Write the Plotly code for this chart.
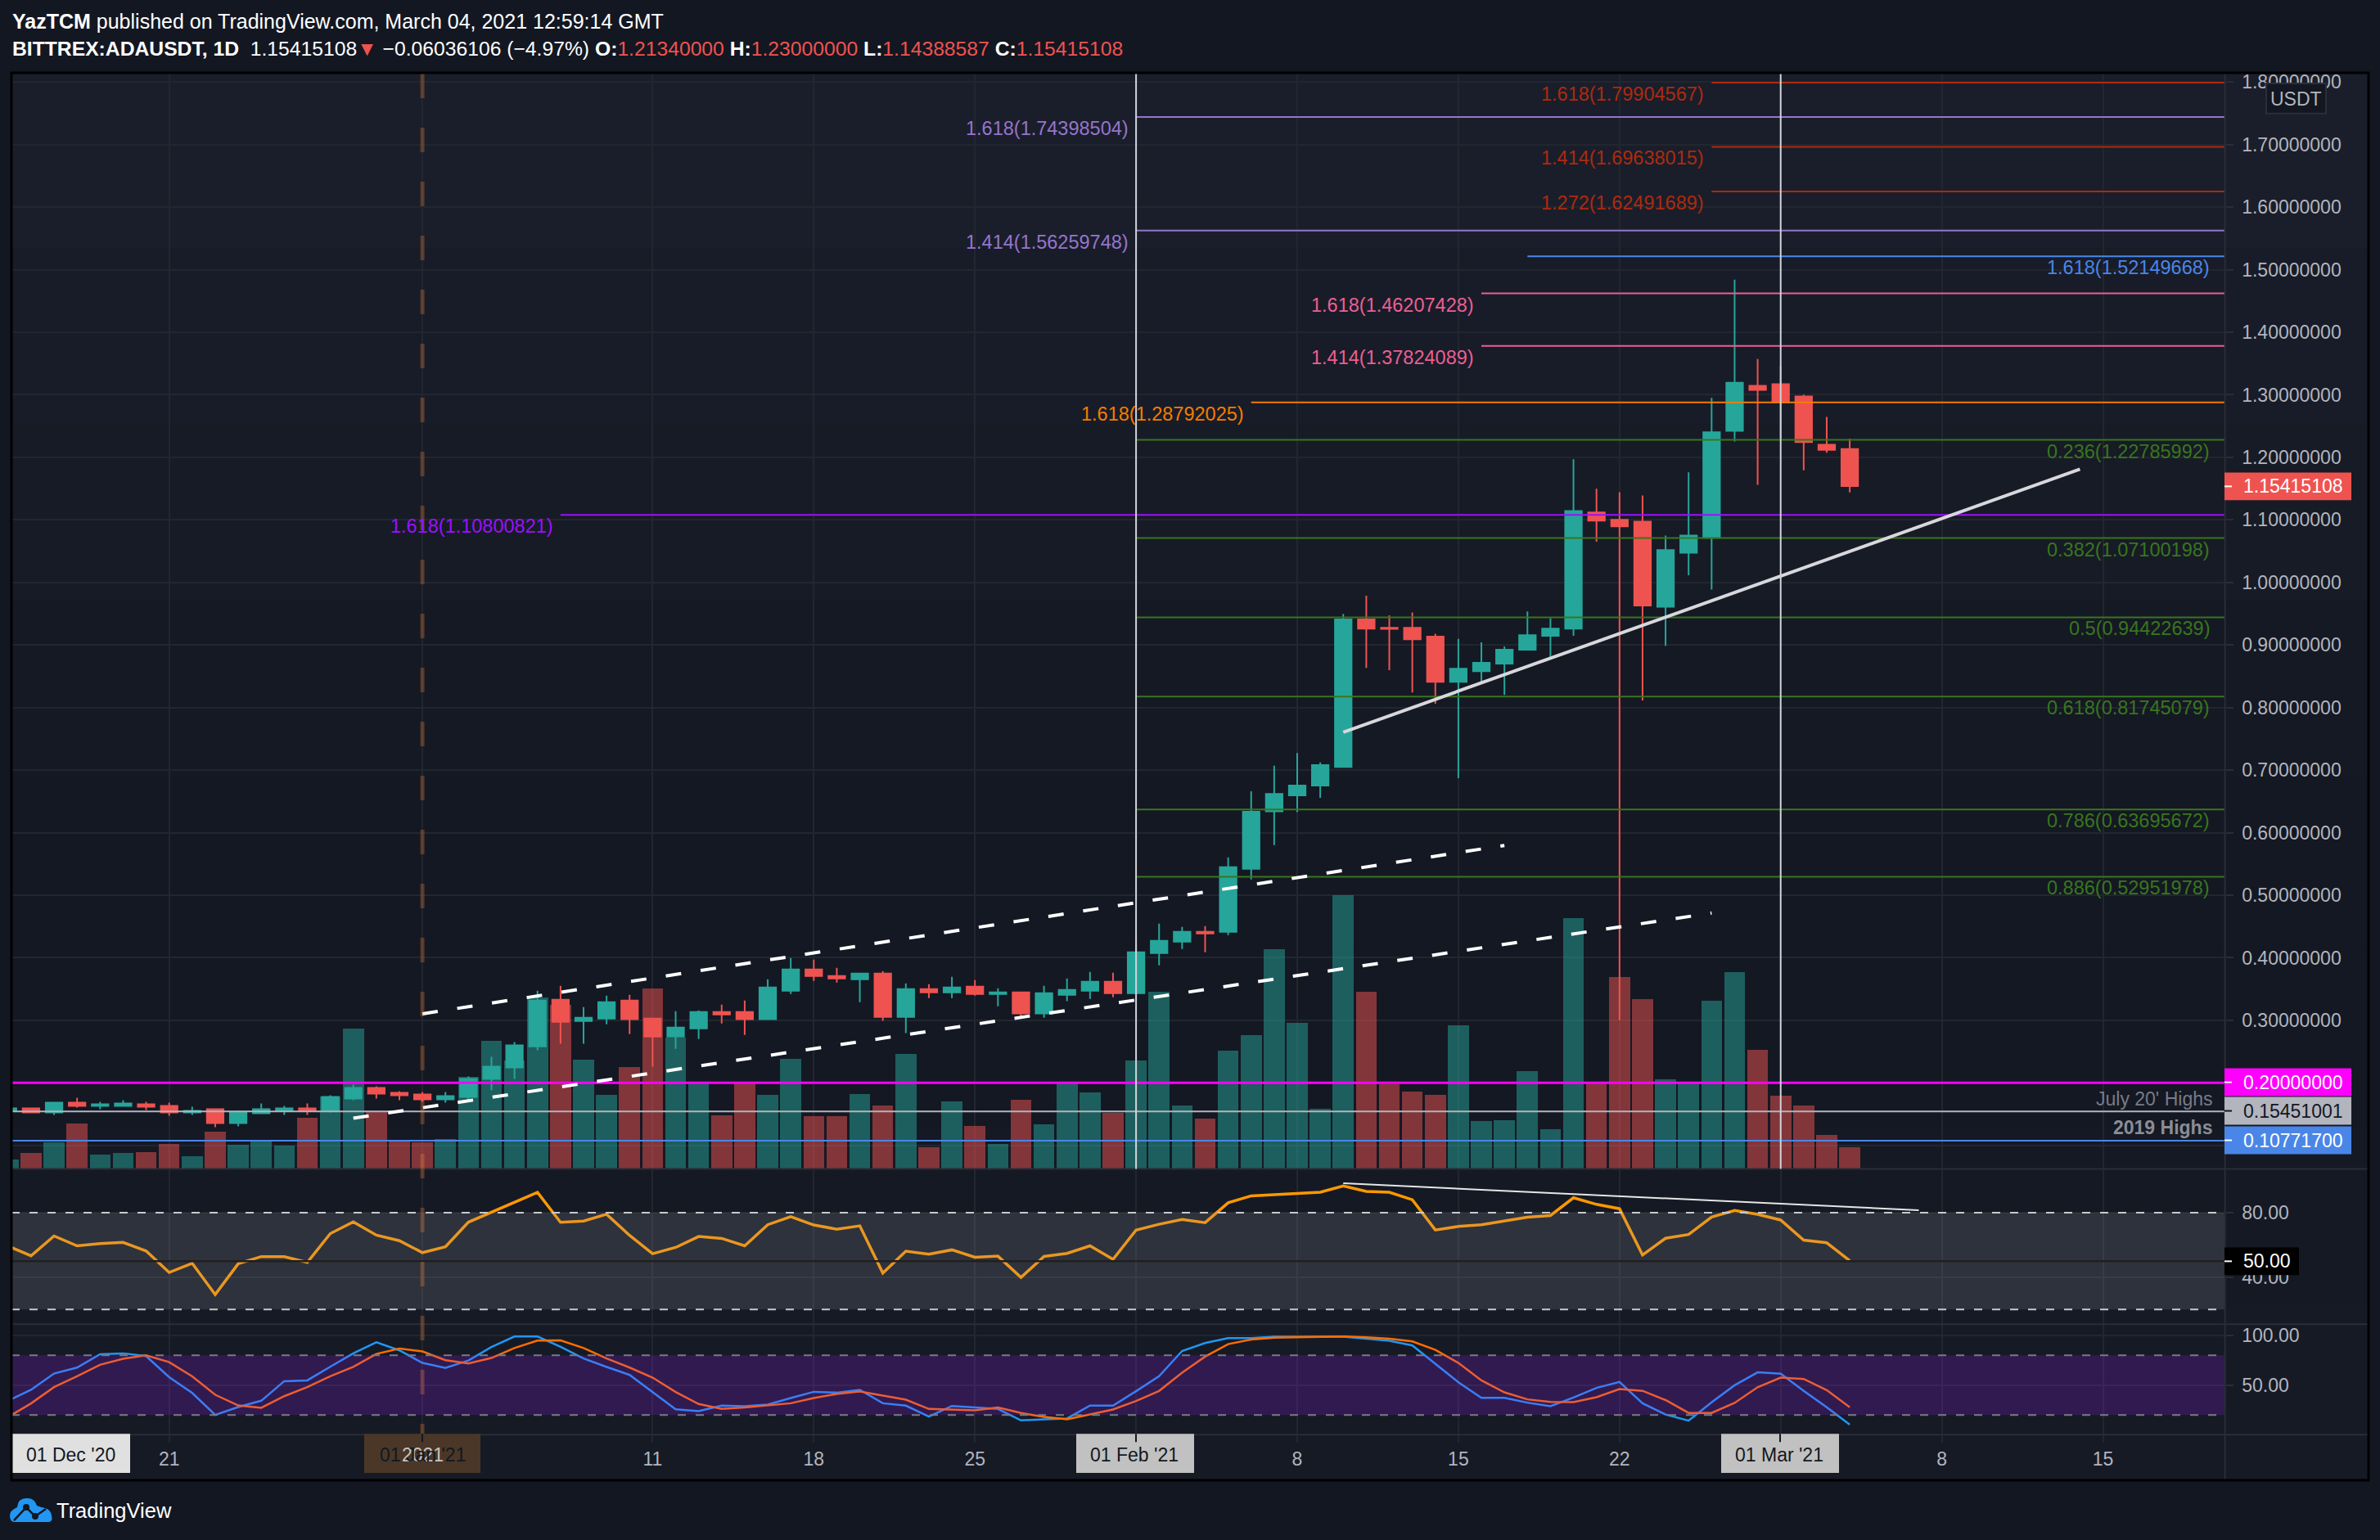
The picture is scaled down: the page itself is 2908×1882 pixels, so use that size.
import plotly.graph_objects as go
import pandas as pd

WIDTH = 2908
HEIGHT = 1882

dates = pd.date_range('2020-12-14', '2021-03-04', freq='D')

opens = [0.1553, 0.1592, 0.1527, 0.1684, 0.1632, 0.1632, 0.1658, 0.1632, 0.1527, 0.1579, 0.1357, 0.1514, 0.1553, 0.1592, 0.1553, 0.1749, 0.1919, 0.1841,
         0.1815, 0.1736, 0.1775, 0.2063, 0.2246, 0.2585, 0.3330, 0.2990, 0.3030, 0.3317, 0.3030, 0.2742, 0.2873, 0.3134, 0.3134, 0.3017, 0.3474, 0.3814,
         0.3709, 0.3657, 0.3749, 0.3056, 0.3500, 0.3448, 0.3540, 0.3422, 0.3448, 0.3109, 0.3409, 0.3474, 0.3618,
         0.3435, 0.4075, 0.4258, 0.4415, 0.4415, 0.5421, 0.6340, 0.6597, 0.6754, 0.7052, 0.9408, 0.9274, 0.9274, 0.9134, 0.8411, 0.8580, 0.8703, 0.8924, 0.9146, 0.9263, 1.1118, 1.1001, 1.0972, 0.9613, 1.0476, 1.0715, 1.2424, 1.3142,
         1.3171, 1.2972, 1.2203, 1.2134]
highs = [0.1606, 0.1606, 0.1684, 0.1762, 0.1697, 0.1723, 0.1697, 0.1684, 0.1619, 0.1579, 0.1553, 0.1671, 0.1632, 0.1671, 0.1801, 0.1971, 0.1945, 0.1867,
         0.1854, 0.1854, 0.2102, 0.2416, 0.2651, 0.3474, 0.3552, 0.3213, 0.3395, 0.3409, 0.3030, 0.3147, 0.3160, 0.3252, 0.3317, 0.3657, 0.3996, 0.3970,
         0.3840, 0.3762, 0.3788, 0.3592, 0.3579, 0.3696, 0.3644, 0.3514, 0.3448, 0.3553, 0.3670, 0.3775, 0.3762,
         0.4245, 0.4546, 0.4493, 0.4506, 0.5604, 0.6661, 0.7069, 0.7274, 0.7122, 0.9496, 0.9788, 0.9473, 0.9519, 0.9181, 0.9099, 0.9041, 0.8977, 0.9537, 0.9432, 1.1969, 1.1497, 1.1444, 1.1392, 1.0750, 1.1759, 1.2949, 1.4839, 1.3573,
         1.3457, 1.3002, 1.2646, 1.2300]
lows = [0.1536, 0.1514, 0.1488, 0.1606, 0.1579, 0.1619, 0.1566, 0.1475, 0.1488, 0.1292, 0.1305, 0.1514, 0.1488, 0.1488, 0.1527, 0.1723, 0.1749, 0.1723,
        0.1697, 0.1684, 0.1723, 0.1880, 0.2063, 0.2520, 0.2625, 0.2625, 0.2938, 0.2781, 0.2259, 0.2546, 0.2703, 0.2951, 0.2768, 0.3017, 0.3422, 0.3631,
        0.3605, 0.3291, 0.2991, 0.2795, 0.3357, 0.3357, 0.3396, 0.3226, 0.3030, 0.3043, 0.3305, 0.3344, 0.3370,
        0.3435, 0.3879, 0.4141, 0.4088, 0.4363, 0.5251, 0.5800, 0.6329, 0.6556, 0.7052, 0.8633, 0.8598, 0.8242, 0.8061, 0.6871, 0.8411, 0.8201, 0.8924, 0.8802, 0.9146, 1.0651, 0.3000, 0.8113, 0.8988, 1.0114, 0.9887, 1.2255, 1.1561,
        1.2302, 1.1794, 1.2074, 1.14388587]
closes = [0.1592, 0.1527, 0.1684, 0.1632, 0.1658, 0.1671, 0.1619, 0.1527, 0.1553, 0.1357, 0.1527, 0.1579, 0.1592, 0.1553, 0.1775, 0.1919, 0.1828, 0.1801,
          0.1736, 0.1788, 0.2063, 0.2259, 0.2599, 0.3317, 0.2977, 0.3043, 0.3291, 0.3017, 0.2742, 0.2886, 0.3134, 0.3095, 0.3017, 0.3526, 0.3814, 0.3709,
          0.3670, 0.3749, 0.3056, 0.3500, 0.3448, 0.3527, 0.3422, 0.3448, 0.3109, 0.3435, 0.3487, 0.3618, 0.3435,
          0.4088, 0.4271, 0.4415, 0.4389, 0.5447, 0.6334, 0.6620, 0.6754, 0.7081, 0.9408, 0.9263, 0.9257, 0.9093, 0.8411, 0.8621, 0.8714, 0.8924, 0.9158, 0.9263, 1.1141, 1.0989, 1.0896, 0.9630, 1.0517, 1.0750, 1.2401, 1.3194, 1.3077,
          1.2885, 1.2243, 1.2121, 1.15415108]
volumes = [11, 19, 32, 55, 17, 19, 20, 30, 15, 45, 29, 33, 28, 62, 88, 171, 69, 34,
           32, 36, 112, 156, 132, 209, 200, 133, 90, 124, 220, 160, 104, 65, 104, 90, 134, 64,
           64, 91, 77, 140, 26, 82, 52, 30, 84, 54, 105, 93, 68,
           132, 216, 77, 61, 144, 163, 268, 178, 73, 334, 216, 103, 94, 90, 175, 58, 59, 119, 48, 306, 105, 234, 207, 109, 105, 205, 240, 145,
           89, 77, 41, 26]
rsi = [59.4, 53.3, 65.6, 59.5, 60.9, 61.6, 56.3, 43.0, 48.7, 29.3, 48.4, 52.8, 52.8, 49.2, 67.1, 74.4, 66.1, 62.7,
       55.3, 58.9, 74.2, 80.3, 86.7, 92.7, 74.1, 74.9, 79.1, 66.0, 54.6, 58.5, 65.3, 64.1, 59.5, 72.6, 77.6, 72.4,
       69.8, 71.9, 42.6, 56.2, 54.3, 57.0, 52.4, 53.1, 39.9, 52.9, 54.8, 59.5, 51.1,
       69.3, 72.9, 75.8, 73.9, 86.2, 90.5, 91.3, 91.7, 92.7, 96.6, 93.2, 92.7, 88.1, 69.3, 71.5, 72.6, 75.1, 77.3, 78.3, 89.3, 85.2, 82.5, 53.8, 64.2, 66.5, 77.3, 81.4, 79.0,
       75.5, 63.0, 61.4, 50.3]
stoch_k = [34.3, 45.3, 61.7, 67.7, 81.1, 82.0, 79.2, 58.1, 42.2, 20.1, 28.0, 34.3, 54.0, 54.8, 68.5, 82.0, 93.2, 85.0,
           72.4, 67.4, 74.8, 88.3, 98.9, 98.9, 88.5, 76.8, 68.3, 60.3, 43.1, 25.8, 23.9, 29.4, 28.8, 30.5, 37.0, 43.3,
           42.5, 45.3, 31.8, 29.4, 18.4, 29.1, 27.5, 26.1, 14.6, 15.4, 16.5, 29.4, 29.4,
           43.9, 59.0, 84.4, 92.4, 97.3, 97.3, 98.7, 98.7, 98.7, 98.7, 96.8, 94.6, 89.9, 71.3, 52.9, 37.3, 37.3, 32.4, 28.8, 37.6, 47.2, 53.2, 31.7, 20.5, 14.2, 32.7, 49.9, 62.9,
           61.5, 44.3, 27.8, 10.2]
stoch_d = [17.9, 31.6, 48.0, 58.9, 70.5, 76.5, 80.0, 73.2, 58.9, 40.3, 29.6, 27.2, 38.9, 48.0, 58.9, 68.5, 81.4, 86.9,
           83.9, 75.1, 71.8, 77.3, 87.4, 94.8, 95.1, 87.4, 76.8, 67.7, 57.6, 43.1, 31.0, 26.1, 27.5, 29.6, 31.8, 37.0,
           41.2, 43.6, 39.8, 35.4, 26.1, 25.3, 24.7, 27.5, 22.0, 18.1, 15.7, 20.6, 25.5,
           34.0, 44.2, 62.5, 78.7, 91.3, 95.9, 97.8, 98.1, 98.7, 98.9, 98.1, 96.8, 94.0, 85.5, 72.4, 54.8, 42.8, 35.7, 33.2, 32.9, 37.9, 46.1, 44.3, 35.0, 22.1, 22.1, 32.1, 47.9,
           57.6, 56.2, 45.0, 27.8]

# Horizontal levels: price, first day, colour, label, side of the label
level_prices = [1.79904567, 1.69638015, 1.62491689, 1.74398504, 1.56259748, 1.52149668, 1.46207428, 1.37824089, 1.28792025, 1.10800821,
                1.22785992, 1.07100198, 0.94422639, 0.81745079, 0.63695672, 0.52951978]
level_starts = ['2021-02-26', '2021-02-26', '2021-02-26', '2021-02-01', '2021-02-01', '2021-02-18', '2021-02-16', '2021-02-16', '2021-02-06', '2021-01-07',
                '2021-02-01', '2021-02-01', '2021-02-01', '2021-02-01', '2021-02-01', '2021-02-01']
level_colors = ['#ad2a0f', '#ad2a0f', '#ad2a0f', '#9575cd', '#9575cd', '#4a86e8', '#ec5f92', '#ec5f92', '#f57c00', '#9c10ff',
                '#38761d', '#38761d', '#38761d', '#38761d', '#38761d', '#38761d']
level_labels = ['1.618(1.79904567)', '1.414(1.69638015)', '1.272(1.62491689)', '1.618(1.74398504)', '1.414(1.56259748)', '1.618(1.52149668)',
                '1.618(1.46207428)', '1.414(1.37824089)', '1.618(1.28792025)', '1.618(1.10800821)', '0.236(1.22785992)', '0.382(1.07100198)',
                '0.5(0.94422639)', '0.618(0.81745079)', '0.786(0.63695672)', '0.886(0.52951978)']
level_sides = ['left', 'left', 'left', 'left', 'left', 'right', 'left', 'left', 'left', 'left', 'right', 'right', 'right', 'right', 'right', 'right']

full_prices = [0.2, 0.15451001, 0.107717]
full_colors = ['#ff00ff', '#b2b5be', '#4a86e8']
full_text_colors = ['#ffffff', '#131722', '#ffffff']

channel_days = [['2021-01-01', '2021-02-17'], ['2020-12-29', '2021-02-26']]
channel_prices = [[0.3104, 0.5796], [0.1436, 0.4715]]
support_days = ['2021-02-10', '2021-03-14']
support_prices = [0.7606, 1.181]
rsi_line_days = ['2021-02-10', '2021-03-07']
rsi_line_values = [98.3, 81.6]

x_ticks = ['2020-12-21', '2021-01-01', '2021-01-11', '2021-01-18', '2021-01-25', '2021-02-01', '2021-02-08', '2021-02-15', '2021-02-22', '2021-03-01', '2021-03-08', '2021-03-15']
x_tick_labels = ['21', '', '11', '18', '25', '', '8', '15', '22', '', '8', '15']
x_start = '2020-12-14 03:36'
x_end = '2021-03-20 07:12'
price_ticks = [0.1, 0.2, 0.3, 0.4, 0.5, 0.6, 0.7, 0.8, 0.9, 1.0, 1.1, 1.2, 1.3, 1.4, 1.5, 1.6, 1.7, 1.8]

BG = '#131722'
GRID = '#22262f'
TEXT = '#b2b5be'
UP = '#26a69a'
DOWN = '#ef5350'
FONT = 'Liberation Sans'


def px_x(px: float) -> float:
    """Turn a picture column into a paper coordinate."""
    return px / WIDTH


def px_y(py: float) -> float:
    """Turn a picture row into a paper coordinate."""
    return 1 - py / HEIGHT


def add_paper_rect(fig: go.Figure, x0: float, y0: float, x1: float, y1: float, fill: str, line: str = None):
    """Add a filled box given in picture pixels."""
    fig.add_shape(
        type='rect', xref='paper', yref='paper',
        x0=px_x(x0), x1=px_x(x1), y0=px_y(y0), y1=px_y(y1),
        fillcolor=fill,
        line=dict(color=line, width=2) if line else dict(width=0),
        layer='above'
    )


def add_paper_line(fig: go.Figure, x0: float, y0: float, x1: float, y1: float, color: str, width: float = 2):
    """Add a straight line given in picture pixels."""
    fig.add_shape(
        type='line', xref='paper', yref='paper',
        x0=px_x(x0), x1=px_x(x1), y0=px_y(y0), y1=px_y(y1),
        line=dict(color=color, width=width),
        layer='above'
    )


def add_paper_text(fig: go.Figure, x: float, y: float, text: str, color: str = TEXT, anchor: str = 'left', size: float = 23):
    """Add a text given in picture pixels, y is the middle of the text."""
    fig.add_annotation(
        xref='paper', yref='paper', x=px_x(x), y=px_y(y),
        text=text, showarrow=False, xanchor=anchor, yanchor='middle',
        font=dict(family=FONT, size=size, color=color)
    )


def add_price_panes(fig: go.Figure, df: pd.DataFrame):
    """
    Add volume, candles, levels and trend lines of the main pane.

    Args:
        fig: Plotly figure object
        df: DataFrame with columns ['date', 'open', 'high', 'low', 'close', 'volume']
    """
    bar_colors = ['rgba(38,166,154,0.5)' if c >= o else 'rgba(239,83,80,0.5)' for o, c in zip(df['open'], df['close'])]
    fig.add_trace(go.Bar(
        x=df['date'],
        y=df['volume'],
        marker=dict(color=bar_colors, line=dict(width=0)),
        width=86400000 * 0.91,
        yaxis='y'
    ))

    fig.add_trace(go.Candlestick(
        x=df['date'],
        open=df['open'],
        high=df['high'],
        low=df['low'],
        close=df['close'],
        whiskerwidth=0,
        increasing=dict(line=dict(color=UP, width=2), fillcolor=UP),
        decreasing=dict(line=dict(color=DOWN, width=2), fillcolor=DOWN),
        yaxis='y2'
    ))

    # Fibonacci levels
    for price, start, color, label, side in zip(level_prices, level_starts, level_colors, level_labels, level_sides):
        fig.add_trace(go.Scatter(
            x=[start, x_end],
            y=[price, price],
            mode='lines',
            line=dict(color=color, width=2),
            yaxis='y2'
        ))
        if side == 'left':
            fig.add_annotation(
                x=start, y=price, xref='x', yref='y2', text=label, showarrow=False,
                xanchor='right', yanchor='middle', xshift=-7, yshift=-14,
                font=dict(family=FONT, size=23.5, color=color)
            )
        else:
            fig.add_annotation(
                xref='paper', yref='y2', x=px_x(2702), y=price, text=label, showarrow=False,
                xanchor='right', yanchor='middle', yshift=-14,
                font=dict(family=FONT, size=23.5, color=color)
            )

    for price, color in zip(full_prices, full_colors):
        fig.add_trace(go.Scatter(
            x=[x_start, x_end],
            y=[price, price],
            mode='lines',
            line=dict(color=color, width=3 if color == '#ff00ff' else 2),
            yaxis='y2'
        ))

    # Trend lines
    for days, prices in zip(channel_days, channel_prices):
        fig.add_trace(go.Scatter(
            x=days,
            y=prices,
            mode='lines',
            line=dict(color='#ffffff', width=4, dash='19px,24px'),
            yaxis='y2'
        ))
    fig.add_trace(go.Scatter(
        x=support_days,
        y=support_prices,
        mode='lines',
        line=dict(color='#d8d8dc', width=4),
        yaxis='y2'
    ))


def add_indicator_panes(fig: go.Figure, df: pd.DataFrame):
    """
    Add the RSI and stochastic RSI panes.

    Args:
        fig: Plotly figure object
        df: DataFrame with columns ['date', 'rsi', 'stoch_k', 'stoch_d']
    """
    fig.add_trace(go.Scatter(
        x=df['date'],
        y=df['rsi'],
        mode='lines',
        line=dict(color='#ff9800', width=3.5),
        yaxis='y3'
    ))
    fig.add_trace(go.Scatter(
        x=rsi_line_days,
        y=rsi_line_values,
        mode='lines',
        line=dict(color='#e6e6e6', width=2),
        yaxis='y3'
    ))
    fig.add_trace(go.Scatter(
        x=df['date'],
        y=df['stoch_k'],
        mode='lines',
        line=dict(color='#2196f3', width=2.5),
        yaxis='y4'
    ))
    fig.add_trace(go.Scatter(
        x=df['date'],
        y=df['stoch_d'],
        mode='lines',
        line=dict(color='#ff6d00', width=2.5),
        yaxis='y4'
    ))

    # Bands sit over the lines, that is why the lines change colour inside them
    fig.add_shape(type='rect', xref='x domain', yref='y3', x0=0, x1=1, y0=20, y1=80,
                  fillcolor='rgba(149,152,161,0.2)', line=dict(width=0), layer='above')
    fig.add_shape(type='rect', xref='x domain', yref='y4', x0=0, x1=1, y0=20, y1=80,
                  fillcolor='rgba(160,30,255,0.2)', line=dict(width=0), layer='above')
    for level in [80, 20]:
        fig.add_shape(type='line', xref='x domain', yref='y3', x0=0, x1=1, y0=level, y1=level,
                      line=dict(color='#c8c9cc', width=2, dash='10px,12px'), layer='above')
        fig.add_shape(type='line', xref='x domain', yref='y4', x0=0, x1=1, y0=level, y1=level,
                      line=dict(color='#787b86', width=2, dash='10px,12px'), layer='above')
    fig.add_shape(type='line', xref='x domain', yref='y3', x0=0, x1=1, y0=50, y1=50,
                  line=dict(color='#201f20', width=2.5), layer='above')


def add_chrome(fig: go.Figure):
    """Add texts, tags, separators and the logo around the panes."""
    # Panel
    for i, shade in enumerate(['#1a1e2a', '#181c28', '#171b26', '#151924', '#141823', '#141823', '#151924', '#161a25']):
        fig.add_shape(type='rect', xref='paper', yref='paper', x0=px_x(14), x1=px_x(2894),
                      y0=px_y(87 + i * 215), y1=px_y(87 + (i + 1) * 215), fillcolor=shade, line=dict(width=0), layer='below')

    # Separators
    add_paper_line(fig, 14, 1428, 2894, 1428, '#2a2d37')
    add_paper_line(fig, 14, 1618, 2894, 1618, '#2a2d37')
    add_paper_line(fig, 14, 1753, 2894, 1753, '#2a2d37')
    add_paper_line(fig, 2718.6, 87, 2718.6, 1809, '#2a2d37')

    # Vertical lines of the drawings
    for day in ['2021-02-01', '2021-03-01']:
        fig.add_shape(type='line', xref='x', yref='paper', x0=day, x1=day, y0=px_y(1428), y1=px_y(87),
                      line=dict(color='#d1d4dc', width=2), layer='above')
    fig.add_shape(type='line', xref='x', yref='paper', x0='2021-01-01', x1='2021-01-01', y0=px_y(88), y1=px_y(1752),
                  line=dict(color='rgba(255,140,60,0.28)', width=5, dash='30px,36px'), layer='above')

    # Date boxes
    add_paper_rect(fig, 14, 1752, 159, 1800, '#e0e0e0')
    add_paper_text(fig, 86, 1778, "01 Dec '20", '#131722', 'center')
    add_paper_rect(fig, 445, 1752, 587, 1800, '#4a3728')
    add_paper_text(fig, 516, 1778, '2021', '#c9c4bf', 'center')
    add_paper_text(fig, 516, 1778, "01 Jan '21", '#131722', 'center')
    add_paper_rect(fig, 1315, 1752, 1459, 1800, '#c1c1c1')
    add_paper_text(fig, 1386, 1778, "01 Feb '21", '#131722', 'center')
    add_paper_rect(fig, 2103, 1752, 2247, 1800, '#c1c1c1')
    add_paper_text(fig, 2174, 1778, "01 Mar '21", '#131722', 'center')
    for px in [516, 1388, 2175]:
        add_paper_line(fig, px, 1752, px, 1762, '#131722')

    # Price tags
    add_paper_rect(fig, 2718, 576, 2873, 610, DOWN)
    add_paper_text(fig, 2739, 593, '1.15415108', '#ffffff')
    add_paper_line(fig, 2718, 593, 2727, 593, '#ffffff')
    for y, price, color, text_color in zip([1322, 1357, 1393], full_prices, full_colors, full_text_colors):
        add_paper_rect(fig, 2718, y - 17, 2873, y + 17, color)
        add_paper_text(fig, 2739, y, f'{price:.8f}', text_color)
        add_paper_line(fig, 2718, y, 2727, y, text_color)
    add_paper_rect(fig, 2718, 1524, 2809, 1558, '#000000')
    add_paper_text(fig, 2739, 1541, '50.00', '#ffffff')
    add_paper_line(fig, 2718, 1541, 2727, 1541, '#ffffff')
    add_paper_rect(fig, 2769, 100, 2842, 137, BG, '#2a2e39')
    add_paper_text(fig, 2805, 119, 'USDT', TEXT, 'center')

    # Notes of the levels
    add_paper_text(fig, 2705, 1342, "July 20' Highs", '#787b86', 'right')
    add_paper_text(fig, 2705, 1377, '<b>2019 Highs</b>', '#8a8d96', 'right')

    # Header
    add_paper_text(fig, 13, 24, '<b>YazTCM</b> published on TradingView.com, March 04, 2021 12:59:14 GMT', '#ffffff', size=25)
    add_paper_text(
        fig, 13, 58,
        '<b>BITTREX:ADAUSDT, 1D</b>  1.15415108<span style="color:#ef5350">▼</span> −0.06036106 (−4.97%) '
        '<b>O:</b><span style="color:#ef5350">1.21340000</span> <b>H:</b><span style="color:#ef5350">1.23000000</span> '
        '<b>L:</b><span style="color:#ef5350">1.14388587</span> <b>C:</b><span style="color:#ef5350">1.15415108</span>',
        '#ffffff', size=24.7
    )

    # Logo
    fig.add_shape(type='path', xref='paper', yref='paper', xsizemode='pixel', ysizemode='pixel',
                  xanchor=px_x(12), yanchor=px_y(1860),
                  path='M 5 0 L 47 0 Q 53 0 51 8 Q 50 15 43 17 Q 38 18 33 20 Q 30 30 20 29 Q 10 29 9 18 Q 0 14 0 8 Q 0 1 5 0 Z',
                  fillcolor='#2196f3', line=dict(width=0), layer='above')
    fig.add_shape(type='path', xref='paper', yref='paper', xsizemode='pixel', ysizemode='pixel',
                  xanchor=px_x(12), yanchor=px_y(1860),
                  path='M 5 2 L 20 18 L 31 7 L 44 16',
                  line=dict(color=BG, width=2.5), layer='above')
    for node_x, node_y in [(20, 18), (31, 7)]:
        fig.add_shape(type='circle', xref='paper', yref='paper', xsizemode='pixel', ysizemode='pixel',
                      xanchor=px_x(12), yanchor=px_y(1860),
                      x0=node_x - 4, x1=node_x + 4, y0=node_y - 4, y1=node_y + 4,
                      fillcolor=BG, line=dict(width=0), layer='above')
    add_paper_text(fig, 67, 1846, 'TradingView', '#ffffff', size=25.5)


def plot_ada_chart(df: pd.DataFrame) -> go.Figure:
    """
    Create the three pane daily chart.

    Args:
        df: DataFrame with the daily candles, volume and indicators

    Returns:
        Plotly figure object
    """
    fig = go.Figure()
    add_price_panes(fig, df)
    add_indicator_panes(fig, df)
    add_chrome(fig)

    tick_font = dict(family=FONT, size=23, color=TEXT)
    fig.update_layout(
        width=WIDTH,
        height=HEIGHT,
        margin=dict(l=0, r=0, t=0, b=0),
        paper_bgcolor=BG,
        plot_bgcolor='rgba(0,0,0,0)',
        showlegend=False,
        hovermode=False,
        boxgap=0.28,
        boxgroupgap=0,
        bargap=0,
        xaxis=dict(
            type='date',
            range=[x_start, x_end],
            domain=[px_x(14), px_x(2718.6)],
            anchor='free',
            position=px_y(1753),
            tickmode='array',
            tickvals=x_ticks,
            ticktext=x_tick_labels,
            showgrid=True,
            gridcolor=GRID,
            gridwidth=2,
            zeroline=False,
            ticks='outside',
            ticklen=9,
            tickwidth=2,
            tickcolor=GRID,
            tickfont=tick_font,
            rangeslider=dict(visible=False)
        ),
        yaxis=dict(
            domain=[px_y(1428), px_y(87)],
            range=[-1, 1340],
            visible=False
        ),
        yaxis2=dict(
            overlaying='y',
            side='right',
            anchor='x',
            range=[0.0625, 1.8148],
            tickmode='array',
            tickvals=price_ticks,
            tickformat='.8f',
            showgrid=True,
            gridcolor=GRID,
            gridwidth=2,
            zeroline=False,
            ticks='outside',
            ticklen=9,
            tickwidth=2,
            tickcolor='#2a2d37',
            ticklabelstandoff=6,
            tickfont=tick_font
        ),
        yaxis3=dict(
            domain=[px_y(1618), px_y(1428)],
            side='right',
            anchor='x',
            range=[10.9, 107.2],
            tickmode='array',
            tickvals=[40, 80],
            tickformat='.2f',
            showgrid=True,
            gridcolor=GRID,
            gridwidth=2,
            zeroline=False,
            ticks='outside',
            ticklen=9,
            tickwidth=2,
            tickcolor='#2a2d37',
            ticklabelstandoff=6,
            tickfont=tick_font
        ),
        yaxis4=dict(
            domain=[px_y(1753), px_y(1618)],
            side='right',
            anchor='x',
            range=[0.3, 111.3],
            tickmode='array',
            tickvals=[50, 100],
            tickformat='.2f',
            showgrid=True,
            gridcolor=GRID,
            gridwidth=2,
            zeroline=False,
            ticks='outside',
            ticklen=9,
            tickwidth=2,
            tickcolor='#2a2d37',
            ticklabelstandoff=6,
            tickfont=tick_font
        )
    )

    # Border goes last so it stays over the panes
    fig.add_shape(type='rect', xref='paper', yref='paper', x0=px_x(14), x1=px_x(2894), y0=px_y(87), y1=px_y(1809),
                  line=dict(color='#000000', width=3), layer='above')

    return fig


daily_df = pd.DataFrame({
    'date': dates,
    'open': opens,
    'high': highs,
    'low': lows,
    'close': closes,
    'volume': volumes,
    'rsi': rsi,
    'stoch_k': stoch_k,
    'stoch_d': stoch_d
})

fig = plot_ada_chart(daily_df)
fig.write_html('out.html', config={'displayModeBar': False}, post_script="document.body.style.margin='0';")
